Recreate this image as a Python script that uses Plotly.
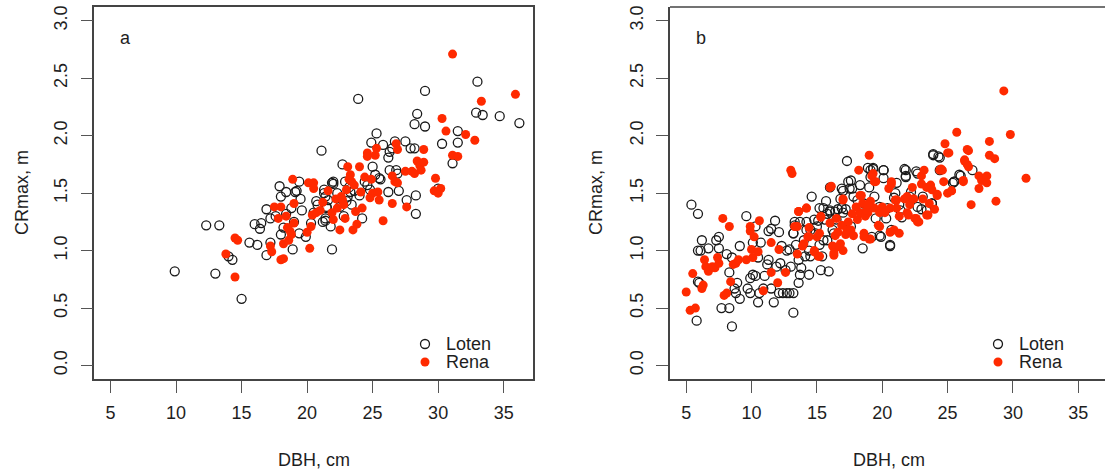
import plotly.graph_objects as go

# ---------------- data: panel a ----------------
a_loten_dbh = [9.9, 12.3, 13.3, 13.0, 14.0, 14.3, 15.0, 15.6, 16.2, 16.0, 16.4, 16.5, 16.9, 16.9, 17.2, 17.2,
               17.9, 18.0, 18.4, 18.0, 18.2, 18.4, 18.8, 18.9, 19.0, 19.1, 19.4, 19.5, 19.4, 19.6, 19.9, 20.3,
               20.7, 20.8, 21.1, 21.2, 21.4, 21.3, 21.4, 21.5, 21.6, 21.8, 21.9, 22.0, 21.9, 22.3, 22.5, 22.7,
               22.9, 23.1, 23.3, 23.4, 23.9, 24.2, 24.6, 24.8, 24.9, 25.0, 25.2, 25.3, 25.5, 25.6, 25.8, 26.2,
               26.3, 26.2, 26.3, 26.5, 26.7, 26.8, 26.9, 27.0, 27.5, 27.6, 27.9, 28.2, 28.2, 28.4, 28.3, 28.3,
               29.0, 29.0, 30.3, 30.0, 31.1, 31.5, 31.5, 33.0, 32.9, 33.4, 34.7, 36.2,
               21.3, 22.0, 21.5, 21.4, 22.6, 23.2, 23.0, 24.0, 24.4, 20.5, 17.6, 19.2, 23.6, 22.8]
a_loten_cr = [0.82, 1.22, 1.22, 0.80, 0.95, 0.92, 0.58, 1.07, 1.05, 1.23, 1.19, 1.24, 1.36, 0.96, 1.28, 1.07,
              1.56, 1.47, 1.51, 1.14, 1.20, 1.32, 1.37, 1.01, 1.25, 1.51, 1.60, 1.45, 1.15, 1.35, 1.12, 1.24,
              1.43, 1.40, 1.87, 1.25, 1.28, 1.53, 1.47, 1.37, 1.44, 1.21, 1.59, 1.60, 1.01, 1.50, 1.38, 1.75,
              1.60, 1.47, 1.51, 1.40, 2.32, 1.28, 1.57, 1.53, 1.94, 1.73, 1.66, 2.02, 1.63, 1.62, 1.92, 1.81,
              1.86, 1.51, 1.70, 1.89, 1.95, 1.70, 1.67, 1.52, 1.95, 1.44, 1.89, 1.89, 2.10, 2.19, 1.48, 1.32,
              2.39, 2.08, 1.93, 1.54, 1.76, 2.04, 1.94, 2.47, 2.20, 2.18, 2.17, 2.11,
              1.50, 1.58, 1.38, 1.26, 1.45, 1.55, 1.43, 1.48, 1.60, 1.33, 1.30, 1.52, 1.52, 1.30]

a_rena_dbh = [13.8, 14.5, 14.7, 14.5, 17.2, 17.3, 17.5, 17.8, 18.0, 18.0, 18.2, 18.2, 18.4, 18.5, 18.6, 18.7,
              18.9, 19.0, 20.0, 20.2, 20.1, 20.5, 20.5, 20.3, 20.4, 20.7, 21.0, 21.6, 21.9, 22.0, 22.2, 22.3,
              22.5, 22.7, 22.9, 23.0, 23.1, 23.3, 23.4, 23.5, 23.7, 23.8, 24.0, 24.1, 24.2, 24.4, 24.6, 24.6,
              24.8, 24.9, 25.0, 25.2, 25.3, 25.4, 25.5, 25.8, 26.5, 26.5, 26.7, 26.8, 26.9, 26.9, 27.5, 27.6,
              28.0, 28.2, 28.4, 28.6, 28.7, 28.9, 28.9, 29.8, 29.7, 30.0, 30.2, 30.3, 30.6, 31.1, 31.1, 31.5,
              32.1, 32.8, 33.3, 35.9,
              22.6, 23.2, 22.8, 23.6, 18.8, 19.0, 21.2]
a_rena_cr = [0.97, 1.11, 1.09, 0.77, 1.04, 0.99, 1.38, 1.28, 1.38, 0.92, 0.93, 1.06, 1.30, 1.20, 1.09, 1.17,
             1.62, 1.41, 1.16, 1.02, 1.59, 1.59, 1.54, 1.21, 1.31, 1.33, 1.35, 1.52, 1.33, 1.27, 1.45, 1.37,
             1.18, 1.44, 1.28, 1.53, 1.73, 1.66, 1.60, 1.18, 1.34, 1.23, 1.73, 1.51, 1.37, 1.64, 1.85, 1.82,
             1.46, 1.62, 1.50, 1.83, 1.89, 1.51, 1.44, 1.26, 1.41, 1.65, 1.60, 1.93, 1.88, 1.59, 1.69, 1.38,
             1.69, 1.67, 1.78, 1.74, 1.70, 1.77, 1.88, 1.63, 1.52, 1.50, 1.54, 2.15, 2.04, 2.71, 1.83, 1.82,
             2.01, 1.96, 2.30, 2.36,
             1.47, 1.62, 1.40, 1.57, 1.14, 1.24, 1.42]

# ---------------- data: panel b ----------------
b_loten_dbh = [5.4, 5.9, 5.8, 5.9, 6.1, 6.2, 5.9, 6.0, 6.7, 7.3, 7.5, 7.5, 7.7, 8.3, 8.5, 8.1, 8.5, 8.3, 8.7,
               8.8, 8.9, 9.1, 9.1, 9.6, 9.7, 9.9, 9.9, 10.1, 10.3, 10.1, 10.3, 10.5, 10.5, 10.6, 10.7, 10.9,
               11.0, 11.2, 11.3, 11.3, 11.5, 11.5, 11.7, 11.8, 11.9, 12.1, 12.1, 12.2, 12.3, 12.4, 12.6, 12.7,
               12.9, 12.9, 13.0, 13.2, 13.2, 13.2, 13.3, 13.4, 13.6, 13.7, 13.8, 13.7, 14.0, 14.1, 14.2, 14.4,
               14.4, 14.5, 14.6, 14.8, 14.9, 15.0, 15.2, 15.2, 15.3, 15.4, 15.6, 15.7, 15.8, 15.9, 16.0, 16.0,
               16.2, 16.4, 16.5, 16.6, 16.8, 16.9, 17.0, 17.2, 17.3, 17.4, 17.5, 17.6, 17.8, 18.1, 18.3, 18.5,
               18.6, 18.9, 19.0, 19.1, 19.3, 19.4, 19.5, 19.8, 19.9, 20.1, 20.1, 20.3, 20.6, 20.7, 20.9, 21.0,
               21.1, 21.3, 21.5, 21.7, 21.8, 22.1, 22.2, 22.6, 22.7, 23.0, 23.1, 23.8, 23.9, 24.3, 24.4, 25.4,
               25.5, 25.9, 26.9,
               15.5, 16.0, 17.0, 17.6, 17.7, 19.1, 19.3, 20.1, 21.8, 21.8, 22.7, 23.9, 24.4, 26.0, 25.5,
               13.3, 13.2, 14.2, 15.1, 15.8, 16.3, 15.5, 12.7, 13.6, 14.5, 19.8, 20.6, 19.2, 16.9, 18.1, 20.4,
               21.4, 23.4, 23.8]
b_loten_cr = [1.40, 1.32, 0.39, 1.00, 1.00, 1.09, 0.73, 0.72, 1.02, 1.09, 1.12, 1.02, 0.50, 0.50, 0.34, 0.97,
              0.94, 0.81, 0.67, 0.63, 0.72, 1.04, 0.58, 1.30, 0.67, 0.63, 0.76, 0.79, 0.78, 1.07, 1.21, 0.94,
              0.55, 0.63, 1.07, 0.67, 0.78, 0.88, 0.92, 1.17, 1.19, 0.67, 0.55, 1.26, 0.86, 1.16, 0.63, 0.89,
              1.04, 0.63, 0.83, 0.63, 0.63, 1.01, 0.86, 0.63, 0.46, 1.15, 1.25, 1.05, 0.72, 0.79, 0.85, 1.25,
              1.09, 0.95, 1.25, 1.00, 0.79, 1.18, 1.47, 1.27, 1.15, 1.21, 1.05, 1.37, 0.83, 0.95, 1.27, 1.43,
              1.09, 0.82, 1.55, 1.34, 1.18, 1.34, 1.27, 1.36, 1.45, 1.54, 1.33, 1.36, 1.78, 1.60, 1.54, 1.21,
              1.47, 1.33, 1.57, 1.02, 1.41, 1.72, 1.55, 1.64, 1.72, 1.47, 1.28, 1.38, 1.12, 1.70, 1.63, 1.28,
              1.04, 1.18, 1.46, 1.50, 1.59, 1.40, 1.29, 1.71, 1.65, 1.47, 1.51, 1.69, 1.38, 1.36, 1.47, 1.41,
              1.83, 1.82, 1.70, 1.59, 1.60, 1.66, 1.70,
              1.37, 1.35, 1.52, 1.61, 1.54, 1.70, 1.71, 1.70, 1.70, 1.64, 1.67, 1.84, 1.81, 1.65, 1.60,
              1.22, 1.15, 1.18, 1.26, 1.32, 1.15, 1.09, 1.00, 0.92, 0.95, 1.13, 1.05, 1.12, 1.37, 1.44, 1.37,
              1.35, 1.35, 1.41]

b_rena_dbh = [5.0, 5.3, 5.7, 5.5, 6.2, 6.3, 6.4, 6.5, 6.7, 7.0, 7.2, 7.4, 7.5, 7.8, 7.9, 8.1, 8.3, 8.4, 8.6,
              8.8, 9.0, 9.6, 9.9, 9.9, 10.0, 10.1, 10.2, 10.5, 10.6, 10.9, 11.5, 11.5, 12.0, 12.1, 12.6, 13.0,
              13.1, 13.3, 13.5, 13.6, 13.9, 14.2, 14.3, 14.4, 14.8, 15.0, 15.2, 15.2, 15.3, 16.0, 16.1, 16.2,
              16.3, 16.4, 16.5, 16.6, 16.8, 16.9, 17.0, 17.0, 17.2, 17.3, 17.4, 17.6, 17.8, 18.1, 18.2, 18.3,
              18.3, 18.5, 18.6, 18.7, 18.9, 19.0, 19.0, 19.1, 19.3, 19.4, 19.4, 19.7, 19.8, 20.0, 20.2, 20.5,
              20.6, 20.7, 20.9, 21.0, 21.1, 21.3, 21.3, 21.7, 21.9, 22.1, 22.3, 22.4, 22.6, 22.7, 23.0, 23.0,
              23.2, 23.1, 23.4, 23.6, 23.7, 23.8, 24.0, 24.2, 24.4, 24.6, 24.7, 24.8, 25.0, 25.0, 25.3, 25.7,
              26.2, 26.3, 26.5, 26.5, 26.8, 27.4, 27.4, 27.6, 28.0, 28.0, 28.2, 28.2, 28.6, 28.7, 29.3, 29.8,
              31.0,
              17.0, 18.4, 19.2, 19.5, 20.7, 21.1, 21.9, 22.4, 23.4, 24.2, 24.5, 25.1, 26.6, 26.3, 26.6, 26.2,
              25.3, 23.5, 22.5, 22.8, 22.0, 20.6, 19.8, 19.1, 18.6, 16.5, 16.3, 15.1, 14.8, 13.5, 14.0, 14.4,
              13.6, 14.2, 15.3, 16.0, 18.8, 18.0, 17.7, 18.9]
b_rena_cr = [0.64, 0.48, 0.50, 0.80, 0.67, 0.70, 0.92, 0.86, 0.82, 0.86, 0.85, 0.94, 0.89, 1.28, 0.61, 0.63,
             1.21, 0.73, 0.88, 0.89, 0.92, 0.92, 1.21, 1.17, 1.01, 0.94, 1.12, 0.99, 1.26, 0.65, 0.81, 1.07,
             0.72, 1.01, 0.81, 1.70, 1.67, 1.21, 0.97, 1.34, 1.04, 1.37, 1.12, 1.20, 0.99, 1.12, 0.95, 1.15,
             1.30, 1.55, 1.56, 1.04, 0.96, 1.13, 1.28, 1.16, 1.06, 1.22, 1.00, 1.45, 1.14, 1.18, 1.25, 1.18,
             1.13, 1.27, 1.70, 1.33, 1.48, 1.41, 1.15, 1.30, 1.33, 1.83, 1.10, 1.43, 1.67, 1.60, 1.37, 1.22,
             1.33, 1.38, 1.33, 1.54, 1.37, 1.58, 1.18, 1.44, 1.37, 1.15, 1.30, 1.45, 1.33, 1.40, 1.55, 1.45,
             1.28, 1.25, 1.58, 1.65, 1.70, 1.45, 1.31, 1.41, 1.57, 1.53, 1.36, 1.49, 1.70, 1.70, 1.60, 1.93,
             1.85, 1.50, 1.52, 2.03, 1.60, 1.79, 1.88, 1.75, 1.40, 1.65, 1.54, 1.61, 1.65, 1.59, 1.83, 1.95,
             1.80, 1.43, 2.39, 2.01, 1.63,
             1.44, 1.48, 1.65, 1.60, 1.60, 1.44, 1.47, 1.45, 1.55, 1.48, 1.71, 1.85, 1.87, 1.78, 1.73, 1.61,
             1.52, 1.31, 1.28, 1.25, 1.31, 1.16, 1.21, 1.10, 1.12, 1.03, 0.98, 0.95, 1.00, 1.21, 1.06, 1.12,
             1.34, 1.37, 1.29, 1.24, 1.35, 1.38, 1.32, 1.40]

panels = ["a", "b"]
legend_labels = ["Loten", "Rena"]
x_ticks = [5, 10, 15, 20, 25, 30, 35]
y_ticks = [0.0, 0.5, 1.0, 1.5, 2.0, 2.5, 3.0]
x_title = "DBH, cm"
y_title = "CRmax, m"

# ---------------- styling ----------------
W, H = 1105, 475
FONT = "Liberation Sans, Arial, Helvetica, sans-serif"
FS = 18
RED = "#ff2a00"
BLACK = "#1a1a1a"
LINE = "#444444"
TXT = "#1e1e1e"

fig = go.Figure()

series = [
    (a_loten_dbh, a_loten_cr, a_rena_dbh, a_rena_cr, "x", "y"),
    (b_loten_dbh, b_loten_cr, b_rena_dbh, b_rena_cr, "x2", "y2"),
]
for lx, ly, rx, ry, xa, ya in series:
    fig.add_trace(go.Scatter(x=lx, y=ly, mode="markers", xaxis=xa, yaxis=ya, showlegend=False,
                             name=legend_labels[0],
                             marker=dict(symbol="circle-open", size=9, color=BLACK, line=dict(width=1.3, color=BLACK))))
    fig.add_trace(go.Scatter(x=rx, y=ry, mode="markers", xaxis=xa, yaxis=ya, showlegend=False,
                             name=legend_labels[1],
                             marker=dict(symbol="circle", size=9, color=RED, line=dict(width=0))))

# plot boxes in pixels
box_top, box_bot = 7, 379.3
a_left, a_right = 94.3, 533.0
b_left = 670.0
b_right_px = W  # panel b is cut at the image edge

ydom = [(H - box_bot) / H, (H - box_top) / H]
px_per_x = 13.07
xr_a = [3.76, 37.24]
xr_b = [3.76, 3.76 + (b_right_px - b_left) / px_per_x]

axis_common = dict(showgrid=False, zeroline=False, ticks="outside", ticklen=12, tickwidth=1.2,
                   tickcolor="#555555", showline=True, linecolor=LINE, linewidth=1.5,
                   tickfont=dict(family=FONT, size=FS, color=TXT))

fig.update_layout(
    width=W, height=H,
    margin=dict(l=0, r=0, t=0, b=0),
    paper_bgcolor="white", plot_bgcolor="white",
    xaxis=dict(domain=[a_left / W, a_right / W], range=xr_a, tickvals=x_ticks, anchor="y",
               mirror=True, ticklabelstandoff=4, **axis_common),
    yaxis=dict(domain=ydom, range=[-0.12, 3.12], tickvals=y_ticks,
               ticktext=[f"{v:.1f}" for v in y_ticks], tickangle=-90, anchor="x",
               mirror=True, ticklabelstandoff=6, **axis_common),
    xaxis2=dict(domain=[b_left / W, 1.0], range=xr_b, tickvals=x_ticks, anchor="y2",
                mirror=False, ticklabelstandoff=4, **axis_common),
    yaxis2=dict(domain=ydom, range=[-0.12, 3.12], tickvals=y_ticks,
                ticktext=[f"{v:.1f}" for v in y_ticks], tickangle=-90, anchor="x2",
                mirror=False, ticklabelstandoff=6, **axis_common),
)

# top border of panel b (the right border lies beyond the image edge)
fig.add_shape(type="line", xref="paper", yref="paper", x0=b_left / W, x1=1.0,
              y0=ydom[1], y1=ydom[1], line=dict(color=LINE, width=1.5))

ann = []
tfont = dict(family=FONT, size=FS, color=TXT)
for lab, left in zip(panels, [a_left, b_left]):
    ann.append(dict(text=lab, x=(left + 31) / W, y=(H - 38) / H, xref="paper", yref="paper",
                    showarrow=False, font=tfont, xanchor="center", yanchor="middle"))
for cx, yx in [((a_left + a_right) / 2, 22), ((b_left + 1108.7) / 2, 596)]:
    ann.append(dict(text=x_title, x=cx / W, y=(H - 460) / H, xref="paper", yref="paper",
                    showarrow=False, font=tfont, xanchor="center", yanchor="middle"))
    ann.append(dict(text=y_title, x=yx / W, y=(H - 193) / H, xref="paper", yref="paper",
                    showarrow=False, font=tfont, xanchor="center", yanchor="middle", textangle=-90))

# legends (key symbol + text) drawn with shapes / annotations
for sym_x in [425, 998]:
    for i, (lab, yy) in enumerate(zip(legend_labels, [344, 362])):
        ann.append(dict(text=lab, x=(sym_x + 19) / W, y=(H - yy) / H, xref="paper", yref="paper",
                        showarrow=False, font=tfont, xanchor="left", yanchor="middle"))
        cx, cy = sym_x / W, (H - yy) / H
        if i == 0:
            fig.add_shape(type="circle", xref="paper", yref="paper", xsizemode="pixel", ysizemode="pixel",
                          xanchor=cx, yanchor=cy, x0=-4.5, x1=4.5, y0=-4.5, y1=4.5,
                          line=dict(color=BLACK, width=1.3), fillcolor="rgba(0,0,0,0)")
        else:
            fig.add_shape(type="circle", xref="paper", yref="paper", xsizemode="pixel", ysizemode="pixel",
                          xanchor=cx, yanchor=cy, x0=-4.5, x1=4.5, y0=-4.5, y1=4.5,
                          line=dict(color=RED, width=0), fillcolor=RED)

fig.update_layout(annotations=ann)
fig.write_html("out.html", config={"displayModeBar": False},
               post_script="document.body.style.margin='0';document.body.style.overflow='hidden';")
